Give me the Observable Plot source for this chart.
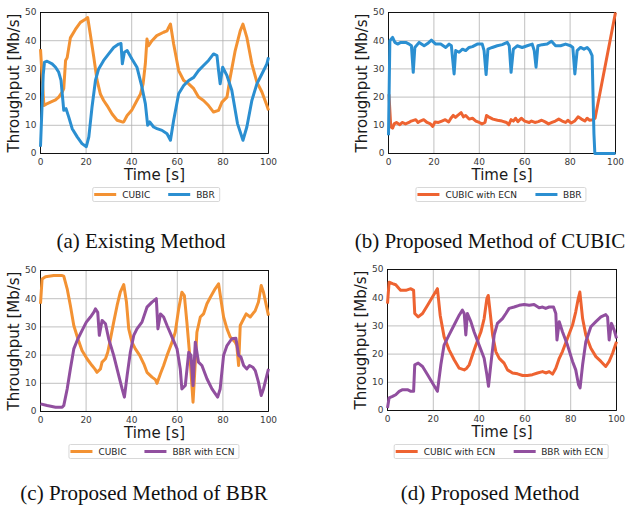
<!DOCTYPE html>
<html><head><meta charset="utf-8">
<script src="https://cdn.jsdelivr.net/npm/d3@7"></script>
<script src="https://cdn.jsdelivr.net/npm/@observablehq/plot@0.6"></script>
<style>
html,body{margin:0;padding:0;background:#fff;width:625px;height:511px;overflow:hidden;position:relative;}
.panel{position:absolute;}
.legend{position:absolute;display:flex;align-items:center;border:1px solid #d8d8d8;border-radius:2px;height:13px;padding:0 4px 0 1px;font:9px "DejaVu Sans";color:#262626;background:#fff;transform:translateX(-50%);white-space:nowrap;}
.sw{display:inline-block;width:22px;height:3px;margin-right:6px;}
.gap{display:inline-block;width:18px;}
.cap{position:absolute;font:21px "Liberation Serif";line-height:21px;color:#111;white-space:nowrap;transform:translateX(-50%);}
</style></head><body>
<div id="pa" class="panel" style="left:0;top:0"></div>
<div id="pb" class="panel" style="left:348px;top:0"></div>
<div id="pc" class="panel" style="left:0;top:258px"></div>
<div id="pd" class="panel" style="left:347px;top:257px"></div>
<div id="la" class="legend" style="left:156px;top:187px"></div>
<div id="lb" class="legend" style="left:501px;top:187px"></div>
<div id="lc" class="legend" style="left:154px;top:444px"></div>
<div id="ld" class="legend" style="left:501px;top:444px"></div>
<div id="ca" class="cap" style="left:141px;top:231px"></div>
<div id="cb" class="cap" style="left:490px;top:231px"></div>
<div id="cc" class="cap" style="left:144px;top:483px"></div>
<div id="cd" class="cap" style="left:490px;top:483px"></div>
<script>
const xTicks = [0, 20, 40, 60, 80, 100];
const yTicks = [0, 10, 20, 30, 40, 50];
const xLabel = "Time [s]";
const yLabel = "Throughput [Mb/s]";
const captions = ["(a) Existing Method", "(b) Proposed Method of CUBIC", "(c) Proposed Method of BBR", "(d) Proposed Method"];
const seriesNames = ["CUBIC", "BBR", "CUBIC with ECN", "BBR with ECN"];
const seriesColors = ["#f39233", "#2b8fd1", "#ee6331", "#914f9f"];

const aCubic = [[0,37],[1.5,17],[2.5,17.5],[4.4,18.2],[6.6,19],[8,20],[9.5,21.8],[10.2,23],[11,33],[11.7,34],[13.1,41],[15.3,44],[17.5,46.5],[19.7,47.6],[20.7,48.2],[21.9,42],[23.4,34],[24.8,26],[26.3,21],[27.7,18.8],[29.2,17],[31.4,14],[33.6,11.8],[35.8,11.2],[36.5,11.2],[38,13.5],[40,15.3],[42.3,18.8],[43.8,21],[45,24.7],[46,32],[46.7,40.6],[47.4,38.2],[48.9,40],[51,41.8],[54,43],[55.5,43.5],[56.2,44.7],[57,45.9],[58.4,38.8],[60.6,29.4],[62.8,25.9],[65,24.7],[67.2,23],[69.3,20],[71.5,18.8],[73.7,17],[75.9,14.7],[78.1,15.3],[79.6,18.2],[81.8,20],[83.2,27],[85.4,36.5],[87.6,43.5],[88.8,45.9],[90.5,41.2],[92.7,31.8],[94.9,25.3],[97.1,21.8],[99.3,17],[100,15.3]];
const aBbr = [[0,2.4],[1.2,28],[1.75,32.4],[2.9,32.7],[5.1,31.8],[6.6,30.6],[8,28.8],[9,25.9],[9.8,18.8],[10.2,15.3],[11.2,15.9],[12.4,12.9],[13.9,8.8],[16.1,5.9],[18.2,3.5],[20.1,2.4],[21.2,5.9],[22.6,16.5],[24.1,25.9],[25.5,30],[27.7,33],[29.9,35.3],[32.1,37.6],[34.3,38.8],[35.3,39],[35.9,31.8],[36.8,35.9],[38,36.5],[40.1,33.5],[42.3,30.6],[44.5,23.5],[46,17.6],[47,10],[47.9,11.2],[49.6,9.4],[51.1,8.8],[53.3,8.2],[55.5,7],[57,4.7],[58.4,11.8],[60.6,21.2],[62.8,24.1],[65,25.9],[67.2,27],[69.3,29.4],[71.5,31.2],[73.7,33],[75.9,35.3],[77.4,34.7],[78.1,29.4],[78.8,24.7],[79.9,30.6],[81.8,27.6],[83.9,22.4],[86.4,10.6],[88.8,4.7],[90.5,9.4],[92.7,18.8],[94.9,24.7],[97.1,28.2],[99.3,31.8],[100,34.1]];

const bCubicEcn = [[0.2,21],[1,9.5],[1.8,9],[2.5,10.5],[3.5,11],[5,10.2],[6,11],[7.5,10.5],[9,11],[10,11.5],[12,12],[13,11],[14,11.5],[15.5,12],[17,11],[18.5,10.5],[19.5,9.6],[20.5,11.2],[22,11],[23.5,11.5],[25,12],[26.5,11.2],[27.5,12.5],[28.5,13.5],[29.5,12.8],[30.5,13.5],[32,14.5],[33,13],[34,13.5],[35.5,12.2],[37,12.5],[38.5,11.5],[40,11],[41.2,10.5],[42.5,11],[43.2,13.5],[44.5,12.8],[46,12.2],[48,11.8],[50,11.5],[52,11],[53,10.2],[54,12],[55,11.5],[56,12.5],[57,11.3],[58.5,12.5],[60,11.5],[62,11],[63,11.5],[64.5,11],[66,11.3],[67.5,11.8],[69,11.2],[70.5,10.5],[72,11],[73.5,11.5],[75,12.2],[76.5,11.5],[78,11],[79,11.8],[80.5,10.8],[82,11.5],[83.5,13],[85,12.2],[86.5,11.5],[87.5,12.5],[88.5,11.8],[90,12],[91,12.5],[100,50]];
const bBbr = [[0,6.5],[0.6,40],[1.8,41.2],[2.8,39.4],[4,38.8],[5.4,39.4],[7.6,39.4],[9.1,38.8],[10.1,38.2],[10.9,28.8],[11.6,37.6],[13.5,39.4],[15.7,38.2],[17.2,39],[18.9,40.2],[20.8,38.8],[23,38.8],[25.2,37.6],[26.7,38.8],[27.7,38.2],[28.9,28.2],[29.6,36.5],[31.1,35.9],[32.6,37],[34,36.5],[35.5,37.6],[37,37.9],[39.1,38.8],[41.3,38.8],[42.1,36.5],[43,28],[43.8,37],[45.7,37.6],[47.9,38.2],[50.1,38.6],[52.3,39.4],[53.2,38.2],[54,28.8],[55,37],[56.7,38.2],[58.9,37.6],[61.1,38.2],[63.3,38.8],[64.2,36.5],[65,30.6],[65.8,38.2],[67.7,38.6],[69.9,38.8],[71.8,39.8],[73.6,38.2],[75.8,38.2],[78,38.8],[80.2,38.2],[81.2,37.6],[82.1,28.2],[83.1,36.5],[84.6,37.6],[86.1,37],[87.5,37.6],[88.7,36.5],[89.7,34.7],[90.5,7],[90.9,0],[100,0]];

const cCubic = [[0,38.2],[0.7,47],[2.2,47.8],[5.8,48.2],[9.5,48.2],[10.2,48],[11.7,43.5],[13.1,37.6],[14.6,30.5],[16.4,25.8],[18.2,21.6],[20.4,18.7],[22.6,16.3],[23.8,15.1],[24.8,13.9],[26.3,15.1],[27,17.5],[28.5,18.7],[29.5,21],[30.7,25.8],[32.1,31.7],[33.6,37.6],[35,42.3],[36.5,45],[37.7,38.8],[38.7,29.3],[40.1,24.6],[41.6,22.2],[43.5,19.9],[45.3,16.9],[46.7,13.9],[48.9,12.2],[50.4,11.3],[51.1,10],[52.6,13.4],[54,16.3],[55.5,19.9],[57.7,24.6],[59.1,28.1],[60.6,36.4],[62,42.3],[63.1,41.1],[64.2,31.7],[65.7,17.5],[66.9,3.3],[67.4,10.4],[68.6,28.1],[70.1,33.5],[71.5,34.6],[73,38.2],[74.5,40.5],[76.6,43.5],[78.1,45.3],[79.1,39.9],[80.3,33.5],[81.8,29.3],[83.2,26.4],[85.4,24.6],[86.1,23.4],[86.9,16.3],[87.6,30.5],[89.1,32.9],[90.2,34.6],[92,33.5],[94.2,35.8],[95.6,38.8],[96.8,44.7],[97.8,42.3],[100,34]];
const cBbrEcn = [[0,2.7],[2.9,2.1],[6.6,1.5],[9.5,1.5],[10.2,2.1],[11.7,8],[13.1,15.1],[14.6,22.2],[16.4,25.8],[18.2,28.7],[20.1,31.7],[21.9,33.5],[23.4,35.2],[24.1,36.4],[25.1,35.2],[25.8,27],[27,32.3],[28.5,31.1],[29.9,25.8],[32.1,19.9],[34.3,12.8],[35.8,8],[36.8,5.1],[38,12.8],[39.4,21],[40.9,27],[42.3,29.3],[44.5,31.7],[46.7,37],[48.9,38.8],[50.8,40],[51.5,29.3],[52.6,34.6],[54,33.5],[55.5,30.5],[57.7,26.4],[59.9,22.2],[61.3,15.1],[62,8],[63.5,9.2],[65,21],[66,19.9],[66.9,9.2],[67.9,24.6],[69.3,17.5],[70.8,16.3],[73,11.6],[75.2,8],[77.7,5.1],[78.8,8],[80.3,19.9],[81.8,23.4],[83.9,25.8],[85.7,26],[86.9,19.9],[87.9,19.3],[89.1,16.3],[90.5,15.1],[91.7,16.3],[93.1,15.7],[94.2,14.5],[95.6,10.4],[96.8,5.7],[97.8,8],[100,15.1]];

const dCubicEcn = [[0,37.9],[0.7,45.5],[2.2,45],[3.6,44.6],[5.1,43.2],[5.8,42.6],[8,42.6],[10.2,43.2],[11.4,42.6],[11.9,34.4],[13.4,33.2],[15.3,34.4],[17.5,37.3],[19.7,40.3],[21.8,43.2],[23,33.8],[24.7,26.2],[26.9,21.5],[29.1,18],[31.3,15],[33.5,14.4],[34.6,15],[35.7,16.2],[37.1,19.7],[38.6,23.2],[40.8,27.9],[42.2,32.6],[43.4,39.7],[44,40.8],[44.8,35],[45.9,26.8],[47.3,20.9],[48.8,18.5],[50.9,16.8],[52.4,14.4],[54.6,13.3],[56.8,13],[59,12.4],[61.1,12.4],[63.3,12.7],[65.5,13.3],[67.7,13.8],[69.1,13.3],[70.6,13.8],[72.1,12.9],[73.5,15],[75,18.5],[76.4,20.9],[78.6,25.6],[80.8,30.3],[82.2,35],[83.3,39.7],[84,42],[85.2,32.6],[86.6,26.8],[88.8,22.1],[91,19.1],[93.2,17.4],[95.3,15.6],[96.8,17.4],[98.3,20.3],[100,24.4]];
const dBbrEcn = [[0,0.9],[0.7,4.5],[2.2,5],[3.6,5.6],[5.1,6.8],[6.6,7.4],[8.7,7.4],[10.2,6.8],[11.4,6.8],[11.9,16.2],[13.4,16.8],[15.3,15.6],[17.5,12.7],[19.7,9.7],[21.8,6.8],[23.3,16.2],[24.7,23.2],[26.9,26.8],[29.1,30.3],[31.3,33.8],[32.7,35.6],[33.5,34.4],[34.2,26.8],[34.9,34.4],[36.4,31.5],[37.8,27.9],[40,23.2],[42.2,18.5],[43.4,12.7],[44.1,8.6],[45.1,16.2],[46.6,26.8],[48,30.9],[50.2,32.6],[51.7,34.4],[53.1,36.2],[55.3,36.7],[57.5,37.3],[59.7,37.6],[61.9,37.3],[64,37.6],[66.2,36.4],[67.7,36.7],[69.1,36.2],[70.6,36.7],[72.5,36.7],[73.5,34.4],[74,25],[75,31.5],[76.4,27.9],[78.6,23.2],[80.8,17.4],[82.2,14.4],[83.4,9.2],[84.1,8],[85.2,16.2],[86.6,24.4],[88.8,29.7],[91,31.5],[93.2,33.2],[95.3,34],[96.1,33.2],[96.8,25],[97.8,30.9],[99,28.5],[100,25.6]];

function chart(series, width, height, marginRight) {
  return Plot.plot({
    width, height,
    marginLeft: 40, marginRight, marginTop: 12, marginBottom: height - 12 - 141,
    x: {domain: [0, 100]},
    y: {domain: [0, 50]},
    style: {fontFamily: "DejaVu Sans", fontSize: "9px", color: "#3a3a3a", background: "transparent", overflow: "visible"},
    marks: [
      Plot.gridX(xTicks, {stroke: "#b0b0b0", strokeOpacity: 1, strokeWidth: 0.8}),
      Plot.gridY(yTicks, {stroke: "#b0b0b0", strokeOpacity: 1, strokeWidth: 0.8}),
      Plot.frame({stroke: "#000", strokeWidth: 0.9}),
      Plot.axisX(xTicks, {tickSize: 0, tickPadding: 5, label: null}),
      Plot.axisY(yTicks, {tickSize: 0, tickPadding: 4, label: null}),
      ...series.map(s => Plot.line(s.data, {x: d => d[0], y: d => d[1], stroke: s.color, strokeWidth: 3, strokeLinejoin: "round", strokeLinecap: "butt"})),
      Plot.text([xLabel], {text: d => d, frameAnchor: "bottom", textAnchor: "middle", lineAnchor: "middle", dy: 22, fontSize: 15, fill: "#1a1a1a"}),
      Plot.text([yLabel], {text: d => d, frameAnchor: "left", textAnchor: "middle", lineAnchor: "middle", rotate: -90, dx: -26, fontSize: 15, fill: "#1a1a1a"})
    ]
  });
}

const panels = [
  {id: "a", w: 290, h: 185, mr: 22, series: [{name: seriesNames[0], color: seriesColors[0], data: aCubic}, {name: seriesNames[1], color: seriesColors[1], data: aBbr}]},
  {id: "b", w: 277, h: 185, mr: 10, series: [{name: seriesNames[2], color: seriesColors[2], data: bCubicEcn}, {name: seriesNames[1], color: seriesColors[1], data: bBbr}]},
  {id: "c", w: 290, h: 185, mr: 22, series: [{name: seriesNames[0], color: seriesColors[0], data: cCubic}, {name: seriesNames[3], color: seriesColors[3], data: cBbrEcn}]},
  {id: "d", w: 278, h: 186, mr: 9, series: [{name: seriesNames[2], color: seriesColors[2], data: dCubicEcn}, {name: seriesNames[3], color: seriesColors[3], data: dBbrEcn}]}
];

panels.forEach((p, i) => {
  document.getElementById("p" + p.id).appendChild(chart(p.series, p.w, p.h, p.mr));
  const lg = document.getElementById("l" + p.id);
  p.series.forEach((s, j) => {
    if (j > 0) { const g = document.createElement("span"); g.className = "gap"; lg.appendChild(g); }
    const sw = document.createElement("span"); sw.className = "sw"; sw.style.background = s.color; lg.appendChild(sw);
    const t = document.createElement("span"); t.textContent = s.name; lg.appendChild(t);
  });
  document.getElementById("c" + p.id).textContent = captions[i];
});
</script>
</body></html>
